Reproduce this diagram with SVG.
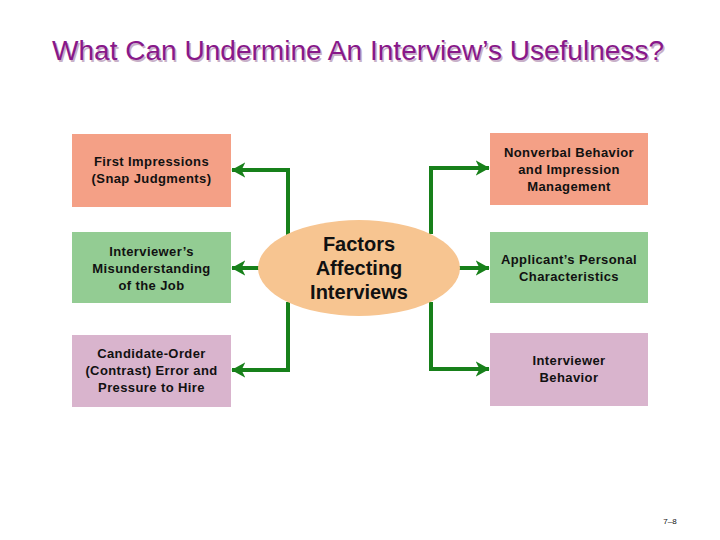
<svg xmlns="http://www.w3.org/2000/svg" width="720" height="540" viewBox="0 0 720 540">
<style>
.t{font-family:"Liberation Sans",Arial,sans-serif;font-weight:bold;font-size:13px;fill:#111;text-anchor:middle;letter-spacing:0.4px}
.c{font-family:"Liberation Sans",Arial,sans-serif;font-weight:bold;font-size:20px;fill:#111;text-anchor:middle}
.ttl{font-family:"Liberation Sans",Arial,sans-serif;font-size:27px;text-anchor:middle}
.con{fill:none;stroke:#17801a;stroke-width:4;stroke-linejoin:miter}
.sal{fill:#f4a086}.grn{fill:#93cc93}.pnk{fill:#d9b4cd}
</style>
<defs>
<marker id="ah" viewBox="0 0 12 12" refX="10.5" refY="6" markerWidth="3.8" markerHeight="3.8" markerUnits="strokeWidth" orient="auto">
<path d="M0,0 L11,6 L0,12 L3,6 Z" fill="#17801a"/>
</marker>
</defs>
<rect width="720" height="540" fill="#fff"/>
<text class="ttl" x="359.5" y="61.5" fill="#c8b0c8" textLength="612" lengthAdjust="spacingAndGlyphs">What Can Undermine An Interview’s Usefulness?</text>
<text class="ttl" x="358" y="60" fill="#88188a" textLength="612" lengthAdjust="spacingAndGlyphs">What Can Undermine An Interview’s Usefulness?</text>

<g id="connectors">
<path class="con" d="M288,236 V170 H232" marker-end="url(#ah)"/>
<path class="con" d="M259,268 H232" marker-end="url(#ah)"/>
<path class="con" d="M288,302 V370 H232" marker-end="url(#ah)"/>
<path class="con" d="M431,234 V168 H489" marker-end="url(#ah)"/>
<path class="con" d="M459,268 H489" marker-end="url(#ah)"/>
<path class="con" d="M431,302 V369 H489" marker-end="url(#ah)"/>
</g>

<g id="center">
<ellipse cx="359" cy="268" rx="101" ry="48" fill="#f7c591"/>
<text class="c" x="359" y="251">Factors</text>
<text class="c" x="359" y="275">Affecting</text>
<text class="c" x="359" y="299">Interviews</text>
</g>

<g id="first-impressions">
<rect class="sal" x="72" y="134" width="159" height="73"/>
<text class="t" x="151.5" y="166">First Impressions</text>
<text class="t" x="151.5" y="183">(Snap Judgments)</text>
</g>
<g id="misunderstanding">
<rect class="grn" x="72" y="232" width="159" height="71"/>
<text class="t" x="151.5" y="256">Interviewer’s</text>
<text class="t" x="151.5" y="273">Misunderstanding</text>
<text class="t" x="151.5" y="290">of the Job</text>
</g>
<g id="candidate-order">
<rect class="pnk" x="72" y="335" width="159" height="72"/>
<text class="t" x="151.5" y="358">Candidate-Order</text>
<text class="t" x="151.5" y="375">(Contrast) Error and</text>
<text class="t" x="151.5" y="392">Pressure to Hire</text>
</g>
<g id="nonverbal">
<rect class="sal" x="490" y="133" width="158" height="72"/>
<text class="t" x="569" y="157">Nonverbal Behavior</text>
<text class="t" x="569" y="174">and Impression</text>
<text class="t" x="569" y="191">Management</text>
</g>
<g id="applicant">
<rect class="grn" x="490" y="232" width="158" height="71"/>
<text class="t" x="569" y="264">Applicant’s Personal</text>
<text class="t" x="569" y="281">Characteristics</text>
</g>
<g id="interviewer-behavior">
<rect class="pnk" x="490" y="333" width="158" height="73"/>
<text class="t" x="569" y="365">Interviewer</text>
<text class="t" x="569" y="382">Behavior</text>
</g>
<text x="670" y="524" font-family="Liberation Sans,Arial,sans-serif" font-size="8" fill="#111" text-anchor="middle">7–8</text>
</svg>
